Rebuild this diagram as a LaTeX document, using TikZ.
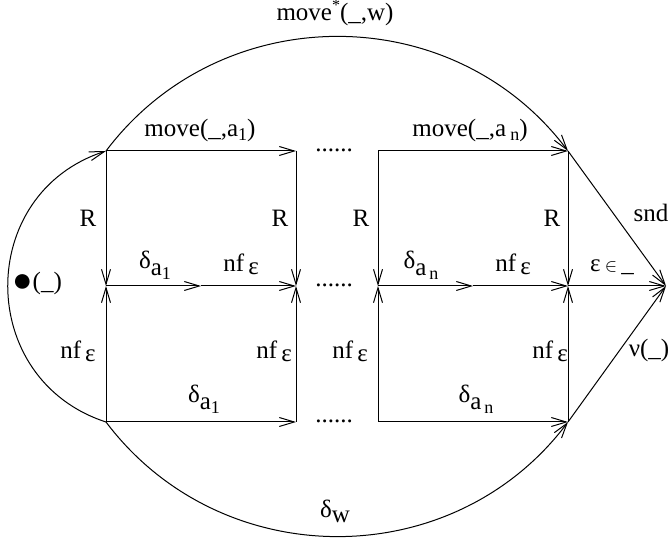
\documentclass[tikz,border=0pt]{standalone}
\usepackage{fontspec}
\setmainfont{Liberation Serif}
\usepackage{tikz}
\usetikzlibrary{arrows.meta}
\tikzset{
  lbl/.style={font=\fontsize{12.5}{15}\selectfont, inner sep=0pt, anchor=base},
  arr/.style={-{Straight Barb[length=7.5pt,width=4.5pt]}, line width=0.5pt},
}
\newcommand{\smallIdx}[1]{\raisebox{-1.6pt}{\fontsize{9}{9}\selectfont #1}}
\newcommand{\nfEps}{nf\,\raisebox{-1.5pt}{ε}}
\newcommand{\dA}[1]{δ\raisebox{-3.5pt}{a\smallIdx{#1}}}

\begin{document}
\begin{tikzpicture}[x=0.5pt, y=0.5pt]
        \useasboundingbox (0,0) rectangle (668,539);
        % corner points of the two squares
        \coordinate (tl1) at (106,388);
        \coordinate (ml1) at (106,253);
        \coordinate (bl1) at (106,117);
        \coordinate (mm1) at (201,253);
        \coordinate (tr1) at (296,388);
        \coordinate (mr1) at (296,253);
        \coordinate (br1) at (296,117);
        \coordinate (tl2) at (378,388);
        \coordinate (ml2) at (378,253);
        \coordinate (bl2) at (378,117);
        \coordinate (mm2) at (473,253);
        \coordinate (tr2) at (568,388);
        \coordinate (mr2) at (568,253);
        \coordinate (br2) at (568,117);
        \coordinate (fin) at (666,253);
        % first square
        \draw[arr] (tl1) -- (tr1);
        \draw[arr] (tl1) -- (ml1);
        \draw[arr] (bl1) -- (ml1);
        \draw[arr] (tr1) -- (mr1);
        \draw[arr] (br1) -- (mr1);
        \draw[arr] (ml1) -- (mm1);
        \draw[arr] (mm1) -- (mr1);
        \draw[arr] (bl1) -- (br1);
        % last square
        \draw[arr] (tl2) -- (tr2);
        \draw[arr] (tl2) -- (ml2);
        \draw[arr] (bl2) -- (ml2);
        \draw[arr] (tr2) -- (mr2);
        \draw[arr] (br2) -- (mr2);
        \draw[arr] (ml2) -- (mm2);
        \draw[arr] (mm2) -- (mr2);
        \draw[arr] (bl2) -- (br2);
        % into the end point
        \draw[arr] (mr2) -- (fin);
        \draw[arr] (tr2) -- (fin);
        \draw[arr] (br2) -- (fin);
        % outer arcs
        \draw[arr] (tl1) to[out=53, in=127, looseness=1.06] (tr2);
        \draw[arr] (bl1) to[out=-53, in=-127, looseness=1.06] (br2);
        \draw[arr] (bl1) to[out=162, in=-162, looseness=1.3] (tl1);
        % gaps
        \node[lbl] (dt) at (334,387) {......};
        \node[lbl] (dm) at (334,252) {......};
        \node[lbl] (db) at (334,116) {......};
        % labels
        \node[lbl] (lmw) at (335,518) {move\raisebox{5pt}{\fontsize{8}{8}\selectfont *}(\_,w)};
        \node[lbl] (lm1) at (200,402) {move(\_,a\smallIdx{1})};
        \node[lbl] (lmn) at (470,402) {move(\_,a\,\smallIdx{n})};
        \node[lbl] (lr1) at (88,312) {R};
        \node[lbl] (lr2) at (280,312) {R};
        \node[lbl] (lr3) at (361,312) {R};
        \node[lbl] (lr4) at (552,312) {R};
        \node[lbl] (ld1) at (155,270) {\dA{1}};
        \node[lbl] (ln1) at (241,267) {\nfEps};
        \node[lbl] (ldn) at (421,270) {\dA{\,n}};
        \node[lbl] (lnn) at (513,267) {\nfEps};
        \node[lbl] (lep) at (612,267) {ε\,$\scriptstyle\in$\,\_};
        \node[lbl] (lsnd) at (651,317) {snd};
        \node[lbl] (lbul) at (37,249) {\raisebox{-1pt}{\fontsize{17}{17}\selectfont ●}(\_)};
        \node[lbl] (lf1) at (78,180) {\nfEps};
        \node[lbl] (lf2) at (274,180) {\nfEps};
        \node[lbl] (lf3) at (350,180) {\nfEps};
        \node[lbl] (lf4) at (550,180) {\nfEps};
        \node[lbl] (lnu) at (649,182) {ν(\_)};
        \node[lbl] (lb1) at (204,136) {\dA{1}};
        \node[lbl] (lbn) at (476,136) {\dA{\,n}};
        \node[lbl] (ldw) at (335,21) {δ\raisebox{-2.5pt}{w}};
      \end{tikzpicture}
\end{document}
